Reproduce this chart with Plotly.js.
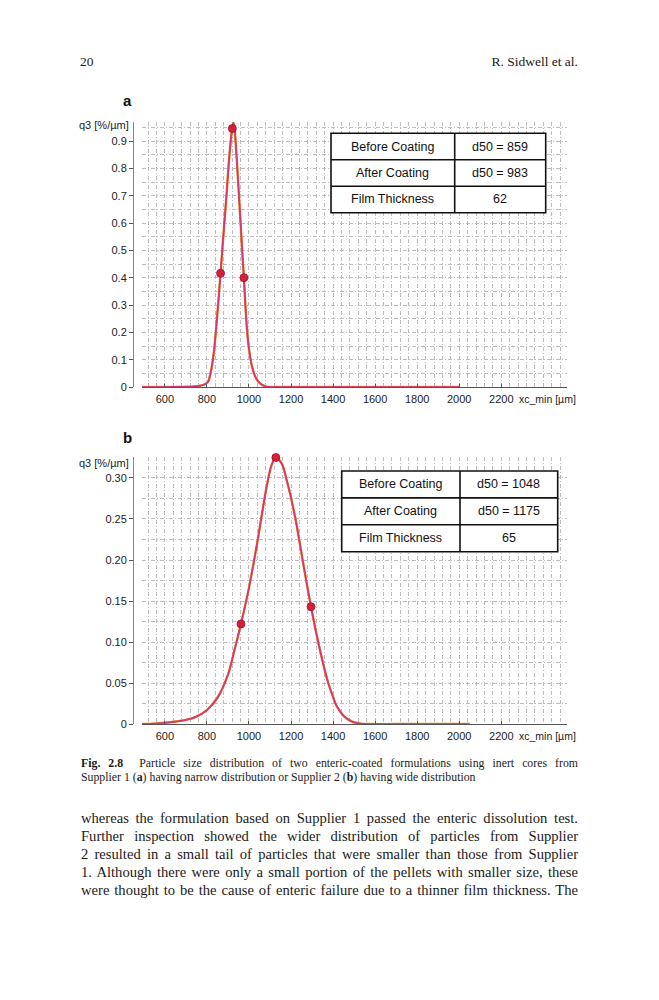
<!DOCTYPE html>
<html>
<head>
<meta charset="utf-8">
<script src="https://cdn.plot.ly/plotly-3.0.1.min.js"></script>
<style>
  html, body { margin:0; padding:0; background:#fff; }
  #wrap { position:relative; width:659px; height:1000px; overflow:hidden; }
  #chart { position:absolute; left:0; top:0; width:659px; height:1000px; }
  .t { position:absolute; font-family:'Liberation Serif','Times New Roman',serif; color:#1a1a1a; white-space:nowrap; }
  .j { text-align:justify; text-align-last:justify; }
</style>
</head>
<body>
<div id="wrap">
  <div id="chart"></div>
  <div class="t" style="left:80px; top:54px; font-size:13.5px; line-height:16px;">20</div>
  <div class="t" style="left:380px; width:198px; top:54px; font-size:13.5px; line-height:16px; text-align:right;">R. Sidwell et al.</div>
  <div class="t j" style="left:81px; width:497px; top:756px; font-size:11.8px; line-height:14px;"><b>Fig. 2.8</b>&nbsp; Particle size distribution of two enteric-coated formulations using inert cores from</div>
  <div class="t" style="left:81px; top:770px; font-size:11.8px; line-height:14px;">Supplier 1 (<b>a</b>) having narrow distribution or Supplier 2 (<b>b</b>) having wide distribution</div>
  <div class="t j" style="left:81px; width:497px; top:809px; font-size:14.6px; line-height:18px;">whereas the formulation based on Supplier 1 passed the enteric dissolution test.</div>
  <div class="t j" style="left:81px; width:497px; top:827px; font-size:14.6px; line-height:18px;">Further inspection showed the wider distribution of particles from Supplier</div>
  <div class="t j" style="left:81px; width:497px; top:845px; font-size:14.6px; line-height:18px;">2 resulted in a small tail of particles that were smaller than those from Supplier</div>
  <div class="t j" style="left:81px; width:497px; top:863px; font-size:14.6px; line-height:18px;">1. Although there were only a small portion of the pellets with smaller size, these</div>
  <div class="t j" style="left:81px; width:497px; top:881px; font-size:14.6px; line-height:18px;">were thought to be the cause of enteric failure due to a thinner film thickness. The</div>
</div>
<script>
// ---------- DATA ----------
// Panel a (Supplier 1, narrow distribution): q3 [%/µm] vs xc_min [µm]
const xA = [490, 600, 700, 740, 770, 790, 806, 820, 835, 849, 865, 876, 886, 895, 903, 912, 920, 926, 932, 938, 944, 951, 958, 967, 976, 986, 993, 1000, 1008, 1017, 1030, 1044, 1060, 1075, 1090, 1110, 1400, 1700, 2000];
const yA = [0, 0, 0.0008, 0.002, 0.005, 0.01, 0.02, 0.06, 0.14, 0.26, 0.416, 0.53, 0.63, 0.72, 0.81, 0.89, 0.944, 0.968, 0.945, 0.88, 0.81, 0.72, 0.63, 0.51, 0.40, 0.26, 0.19, 0.14, 0.10, 0.068, 0.038, 0.02, 0.009, 0.003, 0.0005, 0, 0, 0, 0];
const markXA = [865, 921, 976];
const markYA = [0.416, 0.946, 0.40];

// Panel b (Supplier 2, wide distribution)
const xB = [490, 550, 600, 650, 700, 750, 800, 850, 900, 930, 962, 1000, 1040, 1084, 1108, 1128, 1155, 1179, 1219, 1258, 1295, 1338, 1377, 1400, 1417, 1450, 1490, 1530, 1560, 1800, 2050];
const yB = [0, 0.0005, 0.0015, 0.003, 0.005, 0.009, 0.017, 0.032, 0.06, 0.089, 0.122, 0.166, 0.222, 0.289, 0.316, 0.325, 0.318, 0.298, 0.253, 0.196, 0.143, 0.09, 0.05, 0.033, 0.022, 0.01, 0.003, 0.0005, 0, 0, 0];
const markXB = [962, 1128, 1295];
const markYB = [0.122, 0.325, 0.143];

// Tables
const tableLabels = ['Before Coating', 'After Coating', 'Film Thickness'];
const tableValuesA = ['d50 = 859', 'd50 = 983', '62'];
const tableValuesB = ['d50 = 1048', 'd50 = 1175', '65'];

// Ticks
const xTickVals = [600, 800, 1000, 1200, 1400, 1600, 1800, 2000, 2200];
const yTickValsA = [0, 0.1, 0.2, 0.3, 0.4, 0.5, 0.6, 0.7, 0.8, 0.9];
const yTickTextA = ['0', '0.1', '0.2', '0.3', '0.4', '0.5', '0.6', '0.7', '0.8', '0.9'];
const yTickValsB = [0, 0.05, 0.10, 0.15, 0.20, 0.25, 0.30];
const yTickTextB = ['0', '0.05', '0.10', '0.15', '0.20', '0.25', '0.30'];
const panelLetters = ['a', 'b'];
const yTitle = 'q3 [%/µm]';
const xTitle = 'xc_min [µm]';

// ---------- LAYOUT HELPERS ----------
const W = 659, H = 1000;
const px = x => x / W;
const py = y => 1 - y / H;

const CURVE = '#d4386e';
const ORANGE = '#f08a2a';
const MARK = '#d42038';
const GRID = '#bdbdbd';
const GDASH = '4px,2px,1px,2px';
const FONT = 'Liberation Sans, Arial, sans-serif';

function curveTraces(x, y, mx, my, xa, ya, sm) {
  return [
    {x: x, y: y, xaxis: xa, yaxis: ya, mode: 'lines', line: {color: ORANGE, width: 2.4, shape: 'spline', smoothing: sm}, hoverinfo: 'skip'},
    {x: x, y: y, xaxis: xa, yaxis: ya, mode: 'lines', line: {color: CURVE, width: 1.7, shape: 'spline', smoothing: sm}, hoverinfo: 'skip'},
    {x: mx, y: my, xaxis: xa, yaxis: ya, mode: 'markers', cliponaxis: false,
     marker: {color: MARK, size: 8, line: {color: '#a0102a', width: 0.8}}, hoverinfo: 'skip'}
  ];
}

const data = [].concat(
  curveTraces(xA, yA, markXA, markYA, 'x', 'y', 0.6),
  curveTraces(xB, yB, markXB, markYB, 'x2', 'y2', 1.0)
);

function xAxisDef(anchor) {
  return {
    domain: [px(141.7), px(566.7)], range: [490, 2511], anchor: anchor,
    tickmode: 'array', tickvals: xTickVals, ticks: 'inside', ticklen: 3, tickcolor: '#555',
    ticklabelstandoff: 2,
    showline: true, linecolor: '#555', linewidth: 1.2,
    showgrid: true, gridcolor: GRID, griddash: GDASH, gridwidth: 1,
    minor: {tickmode: 'linear', tick0: 600, dtick: 40, showgrid: true, gridcolor: GRID, griddash: GDASH, gridwidth: 1, ticks: ''},
    tickfont: {family: FONT, size: 11, color: '#222'}, zeroline: false, fixedrange: true
  };
}
function yAxisDef(dom, rng, vals, text, minorStep) {
  return {
    domain: dom, range: rng, anchor: 'free', position: px(133),
    tickmode: 'array', tickvals: vals, ticktext: text, ticks: 'outside', ticklen: 4, tickcolor: '#555',
    showline: true, linecolor: '#888', linewidth: 1,
    showgrid: true, gridcolor: GRID, griddash: GDASH, gridwidth: 1,
    minor: {tickmode: 'linear', tick0: 0, dtick: minorStep, showgrid: true, gridcolor: GRID, griddash: GDASH, gridwidth: 1, ticks: ''},
    tickfont: {family: FONT, size: 11, color: '#222'}, zeroline: false, fixedrange: true
  };
}

// Table geometry (page pixels)
const tabA = {x0: 331, xm: 454.7, x1: 545.7, y0: 133.3, y1: 212.7};
const tabB = {x0: 341.7, xm: 460, x1: 557.7, y0: 471, y1: 551.7};

const shapes = [];
const annotations = [];
[[tabA, tableValuesA], [tabB, tableValuesB]].forEach(([t, vals]) => {
  const rh = (t.y1 - t.y0) / tableLabels.length;
  shapes.push({type: 'rect', xref: 'paper', yref: 'paper', x0: px(t.x0), x1: px(t.x1), y0: py(t.y1), y1: py(t.y0),
    fillcolor: '#fff', line: {color: '#111', width: 1.6}, layer: 'above'});
  shapes.push({type: 'line', xref: 'paper', yref: 'paper', x0: px(t.xm), x1: px(t.xm), y0: py(t.y1), y1: py(t.y0),
    line: {color: '#111', width: 1.6}, layer: 'above'});
  for (let i = 1; i < tableLabels.length; i++) {
    shapes.push({type: 'line', xref: 'paper', yref: 'paper', x0: px(t.x0), x1: px(t.x1), y0: py(t.y0 + i * rh), y1: py(t.y0 + i * rh),
      line: {color: '#111', width: 1.6}, layer: 'above'});
  }
  tableLabels.forEach((lab, i) => {
    const cy = t.y0 + (i + 0.5) * rh;
    annotations.push({xref: 'paper', yref: 'paper', x: px((t.x0 + t.xm) / 2), y: py(cy), text: lab, showarrow: false,
      xanchor: 'center', yanchor: 'middle', font: {family: FONT, size: 12.5, color: '#111'}});
    annotations.push({xref: 'paper', yref: 'paper', x: px((t.xm + t.x1) / 2), y: py(cy), text: vals[i], showarrow: false,
      xanchor: 'center', yanchor: 'middle', font: {family: FONT, size: 12.5, color: '#111'}});
  });
});

// Panel letters, axis titles
[[101, 125, 399.5], [437, 462.5, 736]].forEach(([ly, yt, xt], k) => {
  annotations.push({xref: 'paper', yref: 'paper', x: px(127), y: py(ly), text: '<b>' + panelLetters[k] + '</b>', showarrow: false,
    xanchor: 'center', yanchor: 'middle', font: {family: FONT, size: 15, color: '#111'}});
  annotations.push({xref: 'paper', yref: 'paper', x: px(131), y: py(yt), text: yTitle, showarrow: false,
    xanchor: 'right', yanchor: 'middle', font: {family: FONT, size: 11, color: '#222'}});
  annotations.push({xref: 'paper', yref: 'paper', x: px(578), y: py(xt), text: xTitle, showarrow: false,
    xanchor: 'right', yanchor: 'middle', font: {family: FONT, size: 10.5, color: '#222'}});
});

const layout = {
  width: W, height: H, margin: {l: 0, r: 0, t: 0, b: 0},
  paper_bgcolor: '#fff', plot_bgcolor: '#fff', showlegend: false,
  xaxis: xAxisDef('y'),
  xaxis2: xAxisDef('y2'),
  yaxis: yAxisDef([py(387), py(121.7)], [0, 0.971], yTickValsA, yTickTextA, 0.05),
  yaxis2: yAxisDef([py(724), py(457)], [0, 0.3256], yTickValsB, yTickTextB, 0.025),
  shapes: shapes, annotations: annotations
};

Plotly.newPlot('chart', data, layout, {staticPlot: true, displayModeBar: false});
</script>
</body>
</html>
